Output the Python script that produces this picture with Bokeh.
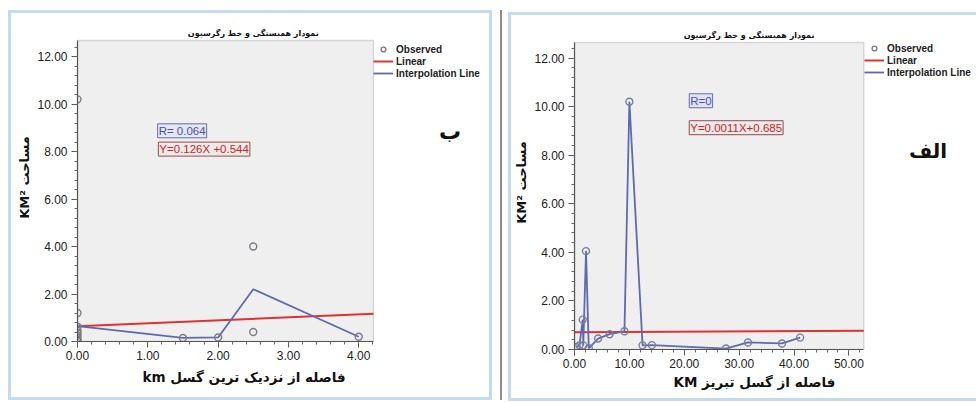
import math
from bokeh.plotting import figure
from bokeh.models import (Range1d, FixedTicker, PrintfTickFormatter, Label, Legend,
                          LegendItem, Spacer, BoxAnnotation, Title)
from bokeh.layouts import row, column
from bokeh.embed import file_html
from bokeh.resources import INLINE

# ---------------- data ----------------
# Panel "ب": distance to nearest fault (km) vs area (km2)
left_obs_x = [0, 0, 0, 0, 0, 0, 0, 0, 0, 1.5, 2.0, 2.5, 2.5, 4.0]
left_obs_y = [10.2, 1.2, 0.62, 0.45, 0.35, 0.25, 0.15, 0.08, 0.02, 0.15, 0.17, 4.0, 0.4, 0.2]
left_interp_x = [0, 1.5, 2.0, 2.5, 4.0]
left_interp_y = [0.65, 0.15, 0.17, 2.2, 0.2]
left_fit = {"slope": 0.126, "intercept": 0.64}
left_r_text = "R= 0.064"
left_eq_text = "Y=0.126X +0.544"
left_x_max, left_y_max = 4.21, 12.68

# Panel "الف": distance to Tabriz fault (KM) vs area (km2)
right_x = [0.3, 0.9, 1.5, 1.6, 2.1, 2.6, 4.3, 6.4, 9.1, 10.0, 12.4, 14.1, 27.6, 31.6, 37.8, 41.1]
right_y = [0.10, 0.17, 1.23, 0.17, 4.05, 0.05, 0.45, 0.63, 0.75, 10.2, 0.17, 0.18, 0.04, 0.29, 0.25, 0.49]
right_fit = {"slope": 0.0011, "intercept": 0.715}
right_r_text = "R=0"
right_eq_text = "Y=0.0011X+0.685"
right_x_max, right_y_max = 52.7, 12.64

y_ticks = [0, 2, 4, 6, 8, 10, 12]
y_minor = [i * 0.4 for i in range(32)]
left_x_ticks = [0, 1, 2, 3, 4]
left_x_minor = [i * 0.2 for i in range(22)]
right_x_ticks = [0, 10, 20, 30, 40, 50]
right_x_minor = [i * 2 for i in range(27)]

title_text = "نمودار همبستگی و خط رگرسیون"
y_label = "KM² مساحت"
left_x_label = "km  فاصله از نزدیک ترین گسل"
right_x_label = "KM فاصله از گسل تبریز"
legend_labels = ["Observed", "Linear", "Interpolation Line"]

BLUE = "#5f69b2"
RED = "#df3232"
GRAY = "#7c7c84"
AR = "DejaVu Sans"
LAT = "Liberation Sans"
EDGE = "#c4dbee"


def make_panel(width, height, left, bottom, plot_w, plot_h, xmax, ymax,
               xticks, xminor, xlabel, xoffset, xstand):
    # the frame covers everything right of / above the axes; the gray plot
    # area is a box inside it so that titles and legends outside stay visible
    frame_w = width - left
    frame_h = height - bottom
    p = figure(width=width, height=height, title=None,
               x_range=Range1d(0, xmax * frame_w / plot_w),
               y_range=Range1d(0, ymax * frame_h / plot_h),
               output_backend="svg", toolbar_location=None,
               min_border_left=left, min_border_top=0,
               min_border_right=0, min_border_bottom=bottom)
    p.background_fill_color = "white"
    p.border_fill_color = "white"
    p.outline_line_color = None
    p.grid.visible = False
    p.add_layout(BoxAnnotation(left=0, right=xmax, bottom=0, top=ymax,
                               fill_color="#efefef", fill_alpha=1,
                               line_color="#8a8a8a", line_width=1.5, level="underlay"))
    p.xaxis.ticker = FixedTicker(ticks=xticks, minor_ticks=xminor)
    p.yaxis.ticker = FixedTicker(ticks=y_ticks, minor_ticks=y_minor)
    p.xaxis.bounds = (0, xmax)
    p.yaxis.bounds = (0, ymax)
    for ax in (p.xaxis, p.yaxis):
        ax.formatter = PrintfTickFormatter(format="%.2f")
        ax.major_label_text_font = LAT
        ax.major_label_text_font_size = "12px"
        ax.major_label_text_color = "#222222"
        ax.axis_line_color = "#555555"
        ax.axis_line_width = 1.2
        ax.major_tick_line_color = "#555555"
        ax.minor_tick_line_color = "#666666"
        ax.major_tick_out = 6
        ax.major_tick_in = 0
        ax.minor_tick_out = 3
        ax.minor_tick_in = 0
        ax.axis_label_text_font = AR
        ax.axis_label_text_font_style = "bold"
        ax.axis_label_text_color = "#111111"
    p.xaxis.major_label_standoff = 3
    p.yaxis.major_label_standoff = 4
    p.yaxis.axis_label = y_label
    p.yaxis.axis_label_text_font_size = "13px"
    p.yaxis.axis_label_standoff = 2
    p.add_layout(Title(text=xlabel, align="left", offset=xoffset, standoff=xstand,
                       text_font=AR, text_font_size="13.5px", text_font_style="bold",
                       text_color="#111111"), "below")
    return p


def lbl(p, x, y, text, size, color="#111111", font=AR, style="bold", angle=0,
        align="center", baseline="middle", **kw):
    p.add_layout(Label(x=x, y=y, text=text, text_font_size=size, text_color=color,
                       text_font=font, text_font_style=style, angle=angle,
                       text_align=align, text_baseline=baseline, **kw))


def add_legend(p, r_obs, r_lin, r_int, lx, ly):
    leg = Legend(items=[LegendItem(label=legend_labels[0], renderers=[r_obs]),
                        LegendItem(label=legend_labels[1], renderers=[r_lin]),
                        LegendItem(label=legend_labels[2], renderers=[r_int])],
                 location=(lx, ly), orientation="vertical",
                 glyph_width=20, glyph_height=12, label_height=12, label_width=20,
                 label_standoff=3, spacing=0, padding=1, margin=0,
                 border_line_color=None, background_fill_alpha=0,
                 label_text_font=LAT, label_text_font_style="bold",
                 label_text_font_size="10px", label_text_color="#222222")
    p.add_layout(leg, "center")


def bar(w, h, color=EDGE):
    return Spacer(width=w, height=h, styles={"background": color})


def framed(p, w, h, right_edge=True):
    parts = [bar(3, h), p]
    total_w = w + 3
    if right_edge:
        parts.append(bar(3, h))
        total_w += 3
    return column(bar(total_w, 3), row(*parts), bar(total_w, 3))


# ---------------- left panel ("ب") ----------------
W1, H1 = 478, 384
p1 = make_panel(W1, H1, 66, 56, 296, 301, left_x_max, left_y_max,
                left_x_ticks, left_x_minor, left_x_label, 65, 8)
xs = [0, left_x_max]
lin1 = p1.line(xs, [left_fit["intercept"] + left_fit["slope"] * v for v in xs],
               line_color=RED, line_width=2)
int1 = p1.line(left_interp_x, left_interp_y, line_color=BLUE, line_width=1.8)
obs1 = p1.scatter(left_obs_x, left_obs_y, marker="circle", size=7, fill_color=None,
                  line_color=GRAY, line_width=1.4)
add_legend(p1, obs1, lin1, int1, 296, 262)

lbl(p1, 1.14, 9.17, left_r_text, "11.5px", color="#4a52b4", font=LAT, style="normal",
    align="left", baseline="top", border_line_color="#6a6ea8", background_fill_color="#e6e6ee",
    padding=1)
lbl(p1, 1.15, 8.40, left_eq_text, "11.5px", color="#d42222", font=LAT, style="normal",
    align="left", baseline="top", border_line_color="#9a4a4a", background_fill_color="#ebebeb",
    padding=1)
lbl(p1, 2.5, 12.97, title_text, "8px")
lbl(p1, 5.3, 8.85, "ب", "22px")

# ---------------- right panel ("الف") ----------------
W2, H2 = 465, 383
p2 = make_panel(W2, H2, 62, 49, 290, 307, right_x_max, right_y_max,
                right_x_ticks, right_x_minor, right_x_label, 99, 2)
xs2 = [0, right_x_max]
lin2 = p2.line(xs2, [right_fit["intercept"] + right_fit["slope"] * v for v in xs2],
               line_color=RED, line_width=2)
int2 = p2.line(right_x, right_y, line_color=BLUE, line_width=1.8)
obs2 = p2.scatter(right_x, right_y, marker="circle", size=7, fill_color=None,
                  line_color="#7a7e9a", line_width=1.4)
add_legend(p2, obs2, lin2, int2, 290, 271)

lbl(p2, 20.9, 10.53, right_r_text, "11.5px", color="#4a52b4", font=LAT, style="normal",
    align="left", baseline="top", border_line_color="#6a6ea8", background_fill_color="#dfe2f0",
    padding=1)
lbl(p2, 20.9, 9.42, right_eq_text, "11.5px", color="#d42222", font=LAT, style="normal",
    align="left", baseline="top", border_line_color="#9a4a4a", background_fill_color="#ebebeb",
    padding=1)
lbl(p2, 31.8, 12.93, title_text, "8px")
lbl(p2, 64.4, 8.19, "الف", "20px")

sep = Spacer(width=16, height=390, styles={
    "background": "linear-gradient(to right, white 8px, #8f8f8f 8px, #8f8f8f 10px, white 10px)"})

layout = column(Spacer(height=10),
                row(Spacer(width=8), framed(p1, W1, H1), sep,
                    column(Spacer(height=2), framed(p2, W2, H2, right_edge=False))))
open("out.html", "w").write(file_html(layout, INLINE))
